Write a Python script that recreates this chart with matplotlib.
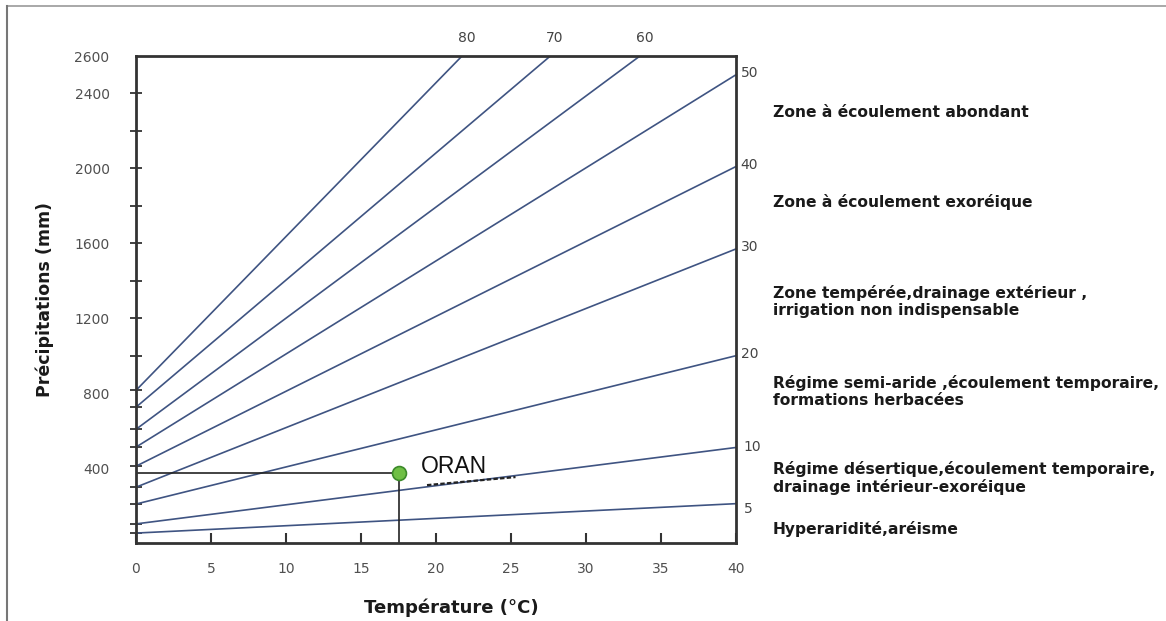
import matplotlib
matplotlib.use("Agg")
import matplotlib.pyplot as plt
from matplotlib.lines import Line2D

plt.rcParams['font.family'] = ['DejaVu Sans']

# ---- data ----
indices = [5, 10, 20, 30, 40, 50, 60, 70, 80]
p_at_t0 = [53, 102, 208, 298, 410, 512, 607, 725, 815]
p_at_t40 = [210, 510, 1000, 1570, 2010, 2500, 2980, 3440, 4100]
t_range = [0, 40]

x_ticks = [0, 5, 10, 15, 20, 25, 30, 35, 40]
y_tick_labels = [400, 800, 1200, 1600, 2000, 2400, 2600]
y_marks_upper = [1000, 1200, 1400, 1600, 1800, 2000, 2200, 2400]

station_name = "ORAN"
station_t = 17.5
station_p = 375
trend_t = [19.4, 25.3]
trend_p = [309, 352]

zones = [
    ("Zone à écoulement abondant", 2300),
    ("Zone à écoulement exoréique", 1820),
    ("Zone tempérée,drainage extérieur ,\nirrigation non indispensable", 1290),
    ("Régime semi-aride ,écoulement temporaire,\nformations herbacées", 810),
    ("Régime désertique,écoulement temporaire,\ndrainage intérieur-exoréique", 345),
    ("Hyperaridité,aréisme", 75),
]

W, H = 1166, 621
fig = plt.figure(figsize=(W / 100, H / 100), dpi=100)
fig.patch.set_facecolor('white')
ax = fig.add_axes([136 / W, 1 - 543 / H, 600 / W, 487 / H])
ax.set_xlim(0, 40)
ax.set_ylim(0, 2600)

line_color = '#3f5482'
for i, p0, p40 in zip(indices, p_at_t0, p_at_t40):
    ax.plot(t_range, [p0, p40], color=line_color, lw=1.2, solid_capstyle='butt')

# station guide lines and marker
ax.plot([0, station_t], [station_p, station_p], color='#222222', lw=1.2)
ax.plot([station_t, station_t], [0, station_p], color='#222222', lw=1.2)
ax.plot(trend_t, trend_p, color='#222222', lw=1.6, ls=(0, (2, 1)))
ax.plot([station_t], [station_p], 'o', ms=10, mfc='#6fbf45', mec='#3c8a2a', mew=1.2, zorder=5)
ax.text(19.0, station_p + 35, station_name, fontsize=16.5, color='#111111', ha='left',
        va='center', family=['Liberation Sans', 'DejaVu Sans'])

# spines
for s in ax.spines.values():
    s.set_color('#333333')
    s.set_linewidth(2)

# x ticks
ax.set_xticks(x_ticks)
ax.set_xticklabels([str(v) for v in x_ticks], fontsize=10, color='#505050')
ax.tick_params(axis='x', direction='in', length=7, width=1.5, color='#333333', pad=14)
ax.tick_params(axis='x', which='minor', length=0)

# y ticks: labels as major (no marks), marks as minor
ax.yaxis.remove_overlapping_locs = False
ax.set_yticks(y_tick_labels)
ax.set_yticklabels([str(v) for v in y_tick_labels], fontsize=10, color='#505050')
ax.set_yticks(sorted(p_at_t0 + y_marks_upper), minor=True)
ax.tick_params(axis='y', which='minor', direction='inout', length=8, width=1.3, color='#333333')
ax.tick_params(axis='y', which='major', length=0, pad=19)

# index labels on top / right
for i, p0, p40 in zip(indices, p_at_t0, p_at_t40):
    if p40 > 2600:
        t_top = (2600 - p0) / (p40 - p0) * 40
        ax.text(t_top + 0.3, 2600 + 60, str(i), fontsize=10, color='#444444',
                ha='center', va='bottom', clip_on=False)
    elif i >= 20:
        ax.text(40.3, p40 + 10, str(i), fontsize=10, color='#444444',
                ha='left', va='center', clip_on=False)
    elif i == 10:
        ax.text(40.5, p40 + 5, str(i), fontsize=10, color='#444444',
                ha='left', va='center', clip_on=False)
    else:
        ax.text(40.55, p40 - 30, str(i), fontsize=10, color='#444444',
                ha='left', va='center', clip_on=False)

# zone descriptions
for txt, yv in zones:
    ax.text(42.45, yv, txt, fontsize=11.2, fontweight='bold', color='#1a1a1a',
            ha='left', va='center', linespacing=1.15, clip_on=False)

ax.set_xlabel("Température (°C)", fontsize=13, fontweight='bold', color='#1a1a1a')
ax.xaxis.set_label_coords(0.525, -0.133)
ax.xaxis.label.set_va('center')
ax.set_ylabel("Précipitations (mm)", fontsize=12.5, fontweight='bold', color='#1a1a1a')
ax.yaxis.set_label_coords(-0.152, 0.5)
ax.yaxis.label.set_va('center')

# outer frame lines of the image
fig.add_artist(Line2D([7 / W, 1], [1 - 6 / H, 1 - 6 / H], color='#999999', lw=1.2, transform=fig.transFigure))
fig.add_artist(Line2D([7 / W, 7 / W], [0, 1 - 6 / H], color='#777777', lw=1.5, transform=fig.transFigure))

fig.savefig("out.png", dpi=100, facecolor='white')
